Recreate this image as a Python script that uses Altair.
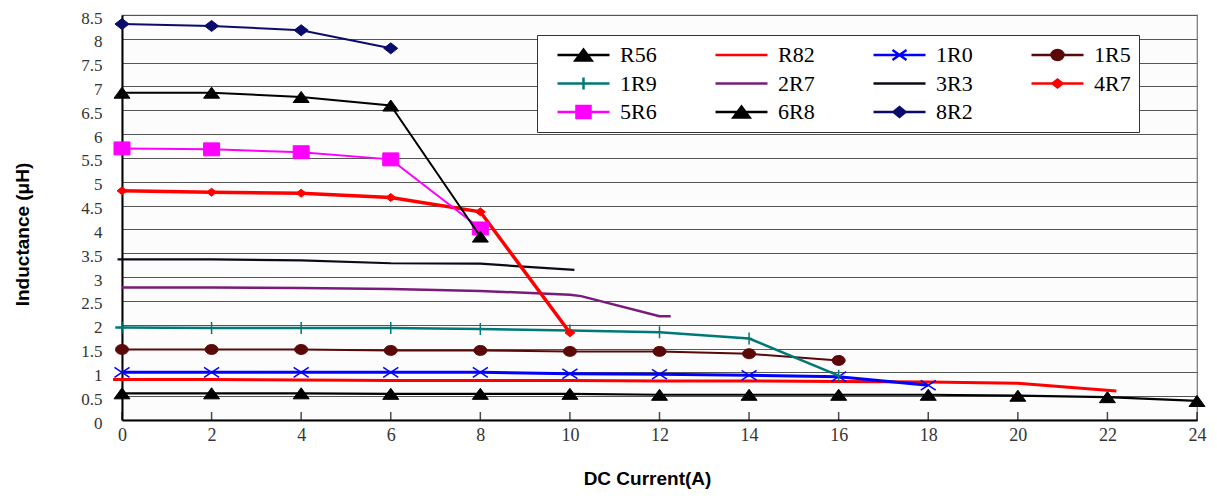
import altair as alt
import pandas as pd

# ---------------- data ----------------
series_names = ["R56", "R82", "1R0", "1R5", "1R9", "2R7", "3R3", "4R7", "5R6", "6R8", "8R2"]

R56_x = [0, 2, 4, 6, 8, 10, 12, 14, 16, 18, 20, 22, 24]
R56_y = [0.56, 0.56, 0.56, 0.55, 0.55, 0.55, 0.53, 0.53, 0.53, 0.53, 0.51, 0.48, 0.40]

R82_x = [-0.2, 0, 2, 4, 6, 8, 10, 12, 14, 16, 18, 20, 22.2]
R82_y = [0.85, 0.85, 0.85, 0.84, 0.83, 0.83, 0.83, 0.82, 0.82, 0.81, 0.80, 0.77, 0.61]

X1R0_x = [0, 2, 4, 6, 8, 10, 12, 14, 16, 18]
X1R0_y = [1.0, 1.0, 1.0, 1.0, 1.0, 0.97, 0.96, 0.94, 0.91, 0.73]

X1R5_x = [0, 2, 4, 6, 8, 10, 12, 14, 16]
X1R5_y = [1.48, 1.48, 1.48, 1.46, 1.46, 1.44, 1.44, 1.39, 1.25]

X1R9_x = [-0.15, 0, 2, 4, 6, 8, 10, 12, 14, 16]
X1R9_y = [1.94, 1.94, 1.93, 1.93, 1.93, 1.91, 1.88, 1.84, 1.71, 0.93]

X2R7_x = [0, 2, 4, 6, 8, 10, 10.25, 12, 12.25]
X2R7_y = [2.78, 2.78, 2.77, 2.75, 2.71, 2.63, 2.60, 2.18, 2.18]

X3R3_x = [-0.1, 0, 2, 4, 6, 8, 10.1]
X3R3_y = [3.37, 3.37, 3.37, 3.35, 3.29, 3.28, 3.15]

X4R7_x = [0, 2, 4, 6, 8, 10]
X4R7_y = [4.81, 4.78, 4.76, 4.67, 4.37, 1.83]

X5R6_x = [0, 2, 4, 6, 8]
X5R6_y = [5.70, 5.68, 5.62, 5.47, 4.02]

X6R8_x = [0, 2, 4, 6, 8]
X6R8_y = [6.87, 6.87, 6.78, 6.60, 3.85]

X8R2_x = [0, 2, 4, 6]
X8R2_y = [8.31, 8.27, 8.18, 7.80]

x_ticks = [0, 2, 4, 6, 8, 10, 12, 14, 16, 18, 20, 22, 24]
y_ticks = [0, 0.5, 1, 1.5, 2, 2.5, 3, 3.5, 4, 4.5, 5, 5.5, 6, 6.5, 7, 7.5, 8, 8.5]

series_data = {
    "R56": (R56_x, R56_y), "R82": (R82_x, R82_y), "1R0": (X1R0_x, X1R0_y),
    "1R5": (X1R5_x, X1R5_y), "1R9": (X1R9_x, X1R9_y), "2R7": (X2R7_x, X2R7_y),
    "3R3": (X3R3_x, X3R3_y), "4R7": (X4R7_x, X4R7_y), "5R6": (X5R6_x, X5R6_y),
    "6R8": (X6R8_x, X6R8_y), "8R2": (X8R2_x, X8R2_y),
}

# ---------------- styles ----------------
SERIF = "Liberation Serif, Times New Roman, serif"
SANS = "Liberation Sans, Arial, sans-serif"
colors = {
    "R56": "#000000", "R82": "#ff0000", "1R0": "#0000ff", "1R5": "#5a0808",
    "1R9": "#007878", "2R7": "#7a1a7a", "3R3": "#0a0a18", "4R7": "#ff0000",
    "5R6": "#ff00ff", "6R8": "#000000", "8R2": "#0b0b6b",
}
widths = {
    "R56": 2.2, "R82": 3, "1R0": 3, "1R5": 2, "1R9": 2.5, "2R7": 2.5,
    "3R3": 2.2, "4R7": 3.5, "5R6": 2, "6R8": 2, "8R2": 2,
}
TRI = "M-1,0.69L0,-0.69L1,0.69Z"
markers = {
    "R56": (TRI, True, 1),
    "1R0": ("M-0.94,-0.62L0.94,0.62M-0.94,0.62L0.94,-0.62", False, 1.5),
    "1R5": ("M-0.81,0A0.81,0.62,0,1,1,0.81,0A0.81,0.62,0,1,1,-0.81,0Z", True, 1),
    "1R9": ("M-0.4,0H0.4M0,-0.75V0.75", False, 1.5),
    "4R7": ("M-0.62,0L0,-0.5L0.62,0L0,0.5Z", True, 1),
    "5R6": ("M-1,-0.81H1V0.81H-1Z", True, 1),
    "6R8": (TRI, True, 1),
    "8R2": ("M-0.88,0L0,-0.69L0.88,0L0,0.69Z", True, 1),
}
LINE = "M-1,0H1"
legend_paths = {
    "R56": LINE + "M-0.31,0.21L0,-0.21L0.31,0.21Z",
    "R82": LINE,
    "1R0": LINE + "M-0.27,-0.19L0.27,0.19M-0.27,0.19L0.27,-0.19",
    "1R5": LINE + "M-0.23,0A0.23,0.19,0,1,1,0.23,0A0.23,0.19,0,1,1,-0.23,0Z",
    "1R9": LINE + "M0,-0.23V0.23",
    "2R7": LINE,
    "3R3": LINE,
    "4R7": LINE + "M-0.19,0L0,-0.15L0.19,0L0,0.15Z",
    "5R6": LINE + "M-0.27,-0.23H0.27V0.23H-0.27Z",
    "6R8": LINE + "M-0.31,0.21L0,-0.21L0.31,0.21Z",
    "8R2": LINE + "M-0.23,0L0,-0.19L0.23,0L0,0.19Z",
}

rows = []
for name in series_names:
    xs, ys = series_data[name]
    for i, (xv, yv) in enumerate(zip(xs, ys)):
        rows.append({"series": name, "x": xv, "y": yv, "order": i})
df = pd.DataFrame(rows)
ticks_df = pd.DataFrame({"x": x_ticks, "y": [0] * len(x_ticks)})

# ---------------- scales / axes ----------------
xscale = alt.Scale(domain=[0, 24], nice=False, zero=False)
yscale = alt.Scale(domain=[0, 8.5], nice=False)
xaxis = alt.Axis(
    title="DC Current(A)", values=x_ticks, format="d", grid=False,
    ticks=False, tickSize=0, labelPadding=6, labelFlush=False,
    labelFont=SERIF, labelFontSize=18, labelColor="#333333",
    domainColor="black", domainWidth=2,
    titleFont=SANS, titleFontSize=19, titleFontWeight="bold",
    titleColor="black", titleX=525, titleY=58, titleBaseline="middle",
)
yaxis = alt.Axis(
    title="Inductance (μH)", values=y_ticks, format="~g", grid=True,
    gridColor="#555555", gridWidth=1, ticks=False, tickSize=0, labelPadding=20,
    labelOffset=3, labelFlush=False,
    labelFont=SERIF, labelFontSize=17, labelColor="#333333",
    domainColor="black", domainWidth=2,
    titleFont=SANS, titleFontSize=19, titleFontWeight="bold",
    titleColor="black", titleX=-100, titleY=219, titleAngle=270,
    titleAlign="center", titleBaseline="middle",
)
X = alt.X("x:Q", scale=xscale, axis=xaxis)
Y = alt.Y("y:Q", scale=yscale, axis=yaxis)

layers = []
# inward ticks on the x axis
layers.append(
    alt.Chart(ticks_df).mark_tick(orient="vertical", size=8, thickness=1.5,
                                  color="black", yOffset=-4).encode(x=X, y=Y)
)

for name in series_names:
    base = alt.Chart(df).transform_filter(alt.datum.series == name)
    layers.append(
        base.mark_line(color=colors[name], strokeWidth=widths[name]).encode(
            x=X, y=Y, order="order:Q")
    )
    if name in markers:
        path, filled, sw = markers[name]
        layers.append(
            base.transform_filter(alt.datum.x >= 0).mark_point(
                shape=path, size=256, filled=filled, opacity=1,
                color=colors[name], stroke=colors[name], strokeWidth=sw,
            ).encode(x=X, y=Y)
        )

leg = alt.Legend(
    title=None, orient="none", legendX=415, legendY=20, columns=4,
    direction="horizontal",
    symbolSize=2704, symbolStrokeWidth=2.5, symbolOpacity=1, symbolOffset=11,
    labelFont=SERIF, labelFontSize=22, labelColor="black",
    labelOffset=9, columnPadding=46, rowPadding=4.5, padding=8,
    clipHeight=24,
    strokeColor="#333333", fillColor="white", gridAlign="all",
)
color_range = [colors[n] for n in series_names]
layers.append(
    alt.Chart(df).transform_filter("false").mark_point(
        filled=True, opacity=1, strokeWidth=2
    ).encode(
        x=X, y=Y,
        color=alt.Color("series:N", scale=alt.Scale(domain=series_names, range=color_range), legend=leg),
        stroke=alt.Stroke("series:N", scale=alt.Scale(domain=series_names, range=color_range), legend=leg),
        shape=alt.Shape("series:N", scale=alt.Scale(domain=series_names,
                        range=[legend_paths[n] for n in series_names]), legend=leg),
    )
)

chart = alt.layer(*layers).properties(
    width=1075, height=405,
    autosize=alt.AutoSizeParams(type="none"),
    padding={"left": 114, "top": 7, "right": 12, "bottom": 72},
    background="white",
).configure_view(fill="#fcfcfc", stroke="#777777", strokeWidth=1.2)

chart.save("out.html", embed_options={"renderer": "svg", "actions": False})
